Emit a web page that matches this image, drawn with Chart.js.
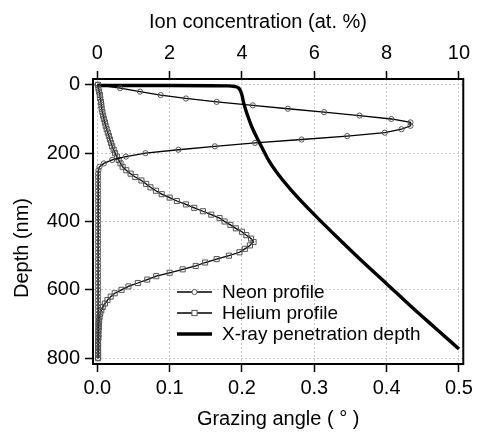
<!DOCTYPE html>
<html>
<head>
<meta charset="utf-8">
<script src="https://cdn.jsdelivr.net/npm/chart.js@4.4.1/dist/chart.umd.min.js"></script>
<style>
  html, body { margin: 0; padding: 0; background: #fff; }
</style>
</head>
<body>
<canvas id="myChart" width="477" height="433"></canvas>
<script>
// depth (nm) of the ion profiles
const depth = [0,10,20,30,40,50,60,70,80,90,100,110,120,130,140,150,160,170,180,190,
  200,210,220,230,240,250,260,270,280,290,300,310,320,330,340,350,360,370,380,390,
  400,410,420,430,440,450,460,470,480,490,500,510,520,530,540,550,560,570,580,590,
  600,610,620,630,640,650,660,670,680,690,700,710,720,730,740,750,760,770,780,790,800];

// ion concentration (at. %)
const neon = [0,0.63,1.18,1.75,2.45,3.30,4.30,5.27,6.27,7.25,8.13,8.66,8.66,8.41,7.95,6.91,5.65,4.36,3.25,2.24,
  1.33,0.79,0.41,0.18,0.06,0.03,0.02,0.02,0.02,0.02,0.02,0.02,0.02,0.02,0.02,0.02,0.02,0.02,0.02,0.02,
  0.02,0.02,0.02,0.02,0.02,0.02,0.02,0.02,0.02,0.02,0.02,0.02,0.02,0.02,0.02,0.02,0.02,0.02,0.02,0.02,
  0.02,0.02,0.02,0.02,0.02,0.02,0.02,0.02,0.02,0.02,0.02,0.02,0.02,0.02,0.02,0.02,0.02,0.02,0.02,0.02,0.02];

const helium = [0.02,0.03,0.05,0.07,0.08,0.10,0.11,0.12,0.14,0.16,0.18,0.21,0.23,0.26,0.29,0.32,0.35,0.38,0.41,0.45,
  0.49,0.54,0.59,0.64,0.70,0.80,0.92,1.05,1.22,1.35,1.47,1.62,1.78,2.00,2.20,2.45,2.68,2.92,3.15,3.38,
  3.52,3.68,3.83,4.00,4.12,4.25,4.32,4.22,4.08,3.93,3.64,3.30,2.98,2.72,2.36,2.00,1.63,1.38,1.12,0.86,
  0.67,0.48,0.37,0.28,0.21,0.15,0.11,0.08,0.06,0.05,0.04,0.04,0.03,0.03,0.03,0.02,0.02,0.02,0.02,0.02,0.02];

// X-ray penetration depth vs grazing angle
const xrayAngle = [0,0.10,0.18,0.19,0.195,0.198,0.200,0.202,0.205,0.209,0.214,0.220,0.228,0.238,0.250,
  0.268,0.300,0.332,0.364,0.400,0.432,0.468,0.500];
const xrayDepth = [2,2,3,5,9,18,30,50,72,97,125,152,185,225,262,308,380,447,512,582,645,713,773];

const ionTicks = [0,2,4,6,8,10];
const angleTicks = [0,0.1,0.2,0.3,0.4,0.5];
const depthTicks = [0,200,400,600,800];

const fontFamily = "'Liberation Sans', Arial, sans-serif";
const font = { family: fontFamily, size: 20 };

const frame = {
  id: 'frame',
  afterDraw(chart) {
    const a = chart.chartArea, ctx = chart.ctx;
    ctx.save();
    ctx.lineWidth = 2;
    ctx.strokeStyle = '#000';
    ctx.strokeRect(a.left, a.top, a.right - a.left, a.bottom - a.top);
    ctx.restore();
  }
};

// top and left axis titles (they sit off-centre in the original)
const sideTitles = {
  id: 'sideTitles',
  afterDraw(chart) {
    const ctx = chart.ctx;
    ctx.save();
    ctx.font = '20px ' + fontFamily;
    ctx.fillStyle = '#000';
    ctx.textAlign = 'center';
    ctx.textBaseline = 'middle';
    ctx.fillText('Ion concentration (at. %)', 258, 22);
    ctx.translate(22, 248);
    ctx.rotate(-Math.PI / 2);
    ctx.fillText('Depth (nm)', 0, 0);
    ctx.restore();
  }
};

// legend drawn inside the plot, lower right
const legendBox = {
  id: 'legendBox',
  afterDraw(chart) {
    const ctx = chart.ctx;
    const x0 = 177, x1 = 212, tx = 222;
    ctx.save();
    ctx.font = '19px ' + fontFamily;
    ctx.textBaseline = 'middle';
    chart.data.datasets.forEach((ds, i) => {
      const y = 292 + i * 21;
      ctx.strokeStyle = '#000';
      ctx.lineWidth = ds.borderWidth;
      ctx.beginPath();
      ctx.moveTo(x0, y);
      ctx.lineTo(x1, y);
      ctx.stroke();
      const cx = (x0 + x1) / 2;
      ctx.lineWidth = 1;
      ctx.strokeStyle = ds.pointBorderColor;
      ctx.fillStyle = '#fff';
      if (ds.pointStyle === 'circle') {
        ctx.beginPath();
        ctx.arc(cx, y, 2.6, 0, Math.PI * 2);
        ctx.fill();
        ctx.stroke();
      } else if (ds.pointStyle === 'rect') {
        ctx.fillRect(cx - 2.6, y - 2.6, 5.2, 5.2);
        ctx.strokeRect(cx - 2.6, y - 2.6, 5.2, 5.2);
      }
      ctx.fillStyle = '#000';
      ctx.fillText(ds.label, tx, y + 1);
    });
    ctx.restore();
  }
};

var ctx = document.getElementById('myChart').getContext('2d');
var chart = new Chart(ctx, {
  type: 'scatter',
  data: {
    datasets: [{
      label: 'Neon profile',
      data: depth.map((d, i) => ({ x: neon[i], y: d })),
      showLine: true,
      borderColor: '#000',
      borderWidth: 1.3,
      pointStyle: 'circle',
      pointRadius: 2.6,
      pointBorderColor: '#555',
      pointBorderWidth: 1,
      pointBackgroundColor: 'rgba(255,255,255,0)',
      xAxisID: 'x',
      yAxisID: 'y'
    }, {
      label: 'Helium profile',
      data: depth.map((d, i) => ({ x: helium[i], y: d })),
      showLine: true,
      borderColor: '#000',
      borderWidth: 1.3,
      pointStyle: 'rect',
      pointRadius: 3.6,
      pointBorderColor: '#555',
      pointBorderWidth: 1,
      pointBackgroundColor: 'rgba(255,255,255,0)',
      xAxisID: 'x',
      yAxisID: 'y'
    }, {
      label: 'X-ray penetration depth',
      data: xrayAngle.map((a, i) => ({ x: a, y: xrayDepth[i] })),
      showLine: true,
      borderColor: '#000',
      borderWidth: 3.4,
      pointRadius: 0,
      cubicInterpolationMode: 'monotone',
      xAxisID: 'xb',
      yAxisID: 'y'
    }]
  },
  options: {
    responsive: false,
    animation: false,
    layout: { padding: { right: 9, left: 0, top: 0, bottom: 0 } },
    plugins: { legend: { display: false }, tooltip: { enabled: false } },
    scales: {
      x: {
        type: 'linear',
        position: 'top',
        min: -0.12,
        max: 10.12,
        afterBuildTicks: s => { s.ticks = ionTicks.map(v => ({ value: v })); },
        afterFit: s => { s.height = 79; },
        ticks: { font: font, color: '#000', padding: 6 },
        grid: { color: '#c8c8c8', lineWidth: 1, tickColor: '#000', tickLength: 8, tickWidth: 1.5, tickBorderDash: [] },
        border: { display: false, dash: [2, 2] }
      },
      xb: {
        type: 'linear',
        position: 'bottom',
        min: -0.006,
        max: 0.506,
        afterBuildTicks: s => { s.ticks = angleTicks.map(v => ({ value: v })); },
        afterFit: s => { s.height = 69; },
        ticks: { font: font, color: '#000', padding: 4, callback: v => v.toFixed(1) },
        grid: { drawOnChartArea: false, tickColor: '#000', tickLength: 8, tickWidth: 1.5 },
        border: { display: false },
        title: { display: true, text: 'Grazing angle ( ° )', font: font, color: '#000', padding: { top: 0, bottom: 2 } }
      },
      y: {
        type: 'linear',
        position: 'left',
        reverse: true,
        min: -17,
        max: 817,
        afterBuildTicks: s => { s.ticks = depthTicks.map(v => ({ value: v })); },
        afterFit: s => { s.width = 93; },
        ticks: { font: font, color: '#000', padding: 5 },
        grid: { color: '#c8c8c8', lineWidth: 1, tickColor: '#000', tickLength: 8, tickWidth: 1.5, tickBorderDash: [] },
        border: { display: false, dash: [2, 2] }
      }
    }
  },
  plugins: [frame, sideTitles, legendBox]
});
</script>
</body>
</html>
